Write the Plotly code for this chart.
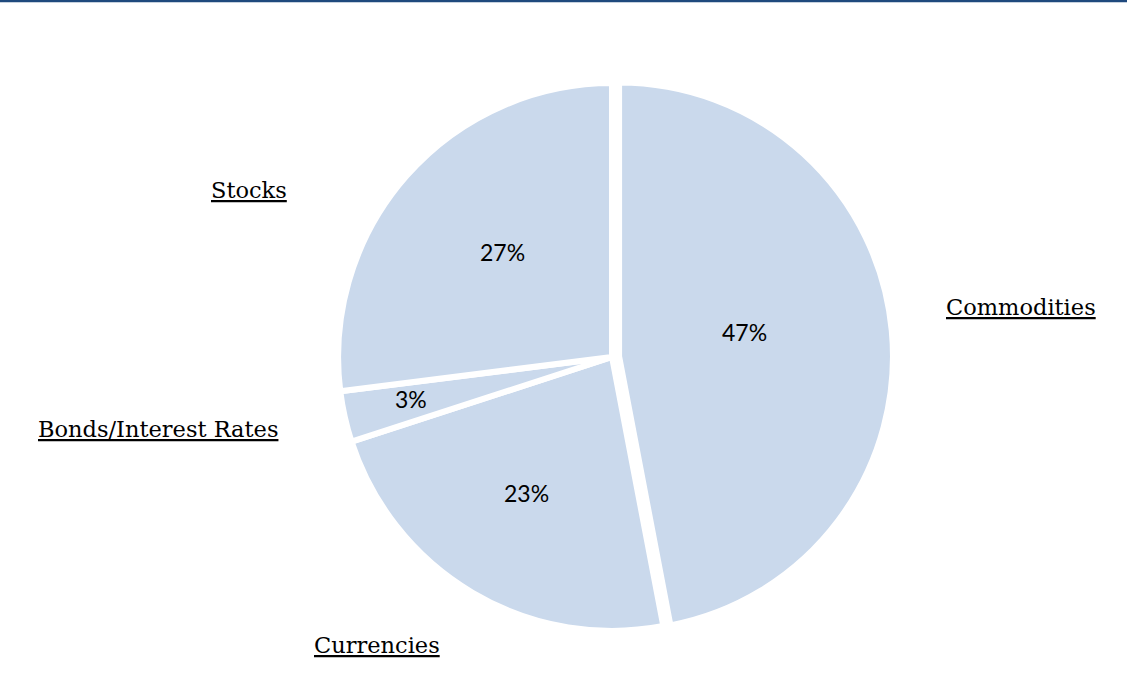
import plotly.graph_objects as go

# Data
categories = ["Commodities", "Currencies", "Bonds/Interest Rates", "Stocks"]
values = [47, 23, 3, 27]
pulls = [0.026, 0, 0, 0]

# label anchor positions (pixels from top-left of 1127x673 canvas)
label_px = {
    "Stocks": (249, 190),
    "Commodities": (1021, 307),
    "Bonds/Interest Rates": (158, 429),
    "Currencies": (377, 645),
}
pct_px = {
    "Stocks": (502, 252),
    "Commodities": (745, 332),
    "Bonds/Interest Rates": (411, 399),
    "Currencies": (526, 493),
}

W, H = 1127, 673
cx, cy = 612, 357
half = 281

total = sum(values)

fig = go.Figure()
fig.add_trace(go.Pie(
    labels=categories,
    values=values,
    sort=False,
    direction="clockwise",
    rotation=0,
    pull=pulls,
    marker=dict(colors=["#CAD9EC"] * len(categories), line=dict(color="white", width=6)),
    textinfo="none",
    showlegend=False,
    hoverinfo="label+percent",
    domain=dict(x=[(cx - half) / W, (cx + half) / W],
                y=[(H - cy - half) / H, (H - cy + half) / H]),
))

for name, v in zip(categories, values):
    px, py = label_px[name]
    fig.add_annotation(
        x=px / W, y=1 - py / H, xref="paper", yref="paper",
        text=f"<u>{name}</u>", showarrow=False,
        xanchor="center", yanchor="middle",
        font=dict(family="DejaVu Serif", size=22.5, color="black"),
    )
    qx, qy = pct_px[name]
    fig.add_annotation(
        x=qx / W, y=1 - qy / H, xref="paper", yref="paper",
        text=f"{round(100 * v / total)}%", showarrow=False,
        xanchor="center", yanchor="middle",
        font=dict(family="Lato", size=23, color="black"),
    )

fig.add_shape(type="line", xref="paper", yref="paper",
              x0=0, x1=1, y0=1 - 1 / H, y1=1 - 1 / H,
              line=dict(color="#1F497D", width=2.5))

fig.update_layout(
    width=W, height=H,
    margin=dict(l=0, r=0, t=0, b=0),
    paper_bgcolor="white", plot_bgcolor="white",
)

fig.write_html("out.html")
